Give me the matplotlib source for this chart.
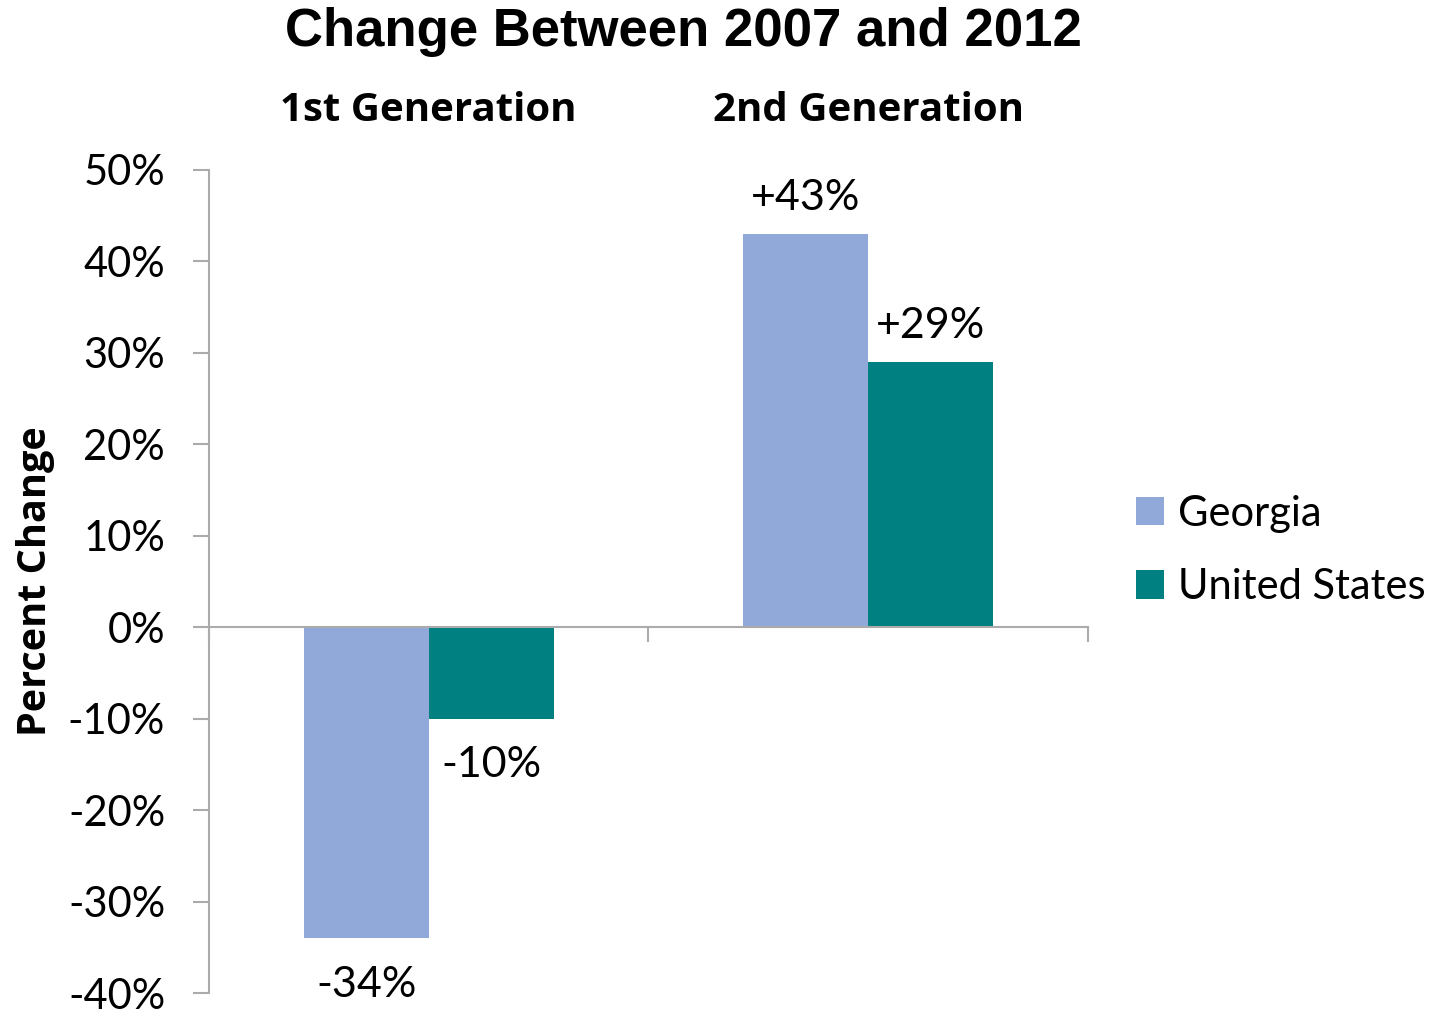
import matplotlib.pyplot as plt
from matplotlib.patches import Patch
import numpy as np

categories = ["1st Generation", "2nd Generation"]
series_names = ["Georgia", "United States"]
georgia = [-34, 43]
united_states = [-10, 29]
value_labels_georgia = ["-34%", "+43%"]
value_labels_us = ["-10%", "+29%"]
yticks = [-40, -30, -20, -10, 0, 10, 20, 30, 40, 50]

colors = ["#91A9D8", "#008080"]
axis_gray = "#ABABAB"
body_font = ["Lato", "DejaVu Sans"]
bold_font = ["Open Sans", "DejaVu Sans"]

fig = plt.figure(figsize=(14.47, 10.10), dpi=100)
ax = fig.add_axes([0.1444, 0.0168, 0.6075, 0.8149])

x = np.arange(len(categories))
width = 0.284
ax.bar(x - width / 2, georgia, width, color=colors[0], label=series_names[0])
ax.bar(x + width / 2, united_states, width, color=colors[1], label=series_names[1])

# value labels outside the bar ends
pad_pos, pad_neg = 1.9, 3.0
for xs, vals, labs in [(x - width / 2, georgia, value_labels_georgia),
                       (x + width / 2, united_states, value_labels_us)]:
    for xi, v, lab in zip(xs, vals, labs):
        va = "bottom" if v >= 0 else "top"
        ax.text(xi, v + (pad_pos if v >= 0 else -pad_neg), lab, ha="center", va=va,
                fontsize=31, family=body_font, color="black")

ax.set_xlim(-0.5, 1.5)
ax.set_ylim(-40, 50)
ax.set_yticks(yticks)
ax.set_yticklabels([f"{t}%" for t in yticks], family=body_font, fontsize=30)

ax.spines["top"].set_visible(False)
ax.spines["right"].set_visible(False)
ax.spines["bottom"].set_position(("data", 0))
for s in ("left", "bottom"):
    ax.spines[s].set_color(axis_gray)
    ax.spines[s].set_linewidth(1.5)

ax.tick_params(axis="y", direction="out", length=11.5, width=1.5, color=axis_gray, pad=20)
ax.set_xticks([-0.5, 0.5, 1.5])
ax.set_xticklabels([])
ax.tick_params(axis="x", direction="out", length=11, width=1.5, color=axis_gray)

ax.set_ylabel("Percent Change", fontsize=28.5, fontweight="bold", family=bold_font)
ax.yaxis.set_label_coords(-0.175, 0.5)

# category headers above the plot
for xi, cat in zip(x, categories):
    ax.text(xi, 1.072, cat, transform=ax.get_xaxis_transform(), ha="center", va="center",
            fontsize=29, fontweight="bold", family=bold_font)

fig.text(0.472, 0.968, "Change Between 2007 and 2012", ha="center", va="center",
         fontsize=38, fontweight="bold", family=["Liberation Sans", "DejaVu Sans"])

handles = [Patch(facecolor=c, edgecolor="none") for c in colors]
fig.legend(handles, series_names, loc="center left", bbox_to_anchor=(0.7595, 0.455),
           frameon=False, prop={"family": body_font, "size": 30},
           handlelength=0.67, handleheight=0.67, handletextpad=0.32, labelspacing=0.85)

fig.savefig("out.png", dpi=100)
